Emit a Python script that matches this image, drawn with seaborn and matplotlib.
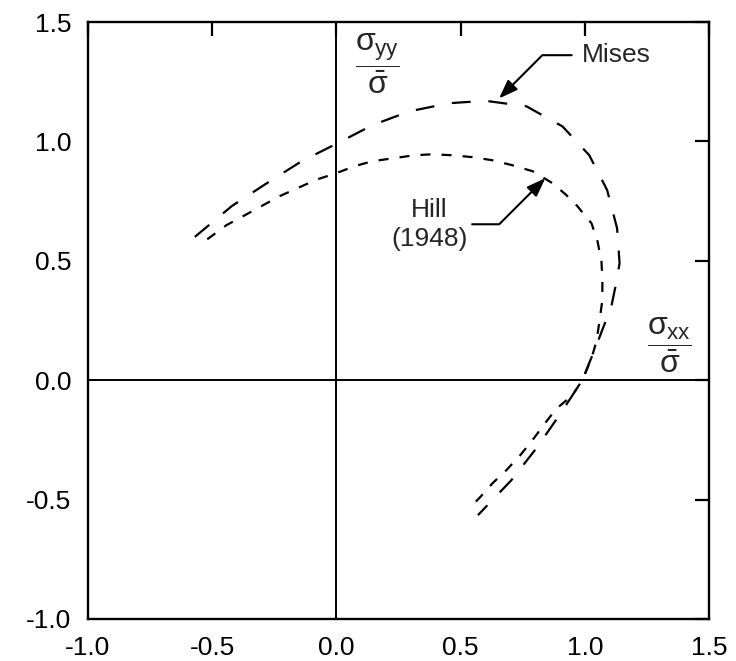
import matplotlib
matplotlib.use("Agg")
import matplotlib.pyplot as plt
import pandas as pd
import seaborn as sns

# Plane-stress yield loci, stresses normalised by the effective stress
mises_sxx = [-0.57, -0.42, -0.28, -0.14, 0.0, 0.145, 0.294, 0.455, 0.60, 0.765,
             0.91, 1.018, 1.09, 1.13, 1.14, 1.125, 1.107, 1.05, 0.99, 0.898,
             0.805, 0.705, 0.57]
mises_syy = [0.60, 0.73, 0.825, 0.917, 0.99, 1.068, 1.126, 1.16, 1.17, 1.147,
             1.063, 0.942, 0.796, 0.636, 0.49, 0.40, 0.31, 0.155, 0.0, -0.146,
             -0.285, -0.418, -0.565]

hill_sxx = [-0.52, -0.443, -0.37, -0.30, -0.23, -0.157, -0.08, 0.0, 0.072, 0.145,
            0.233, 0.314, 0.386, 0.467, 0.548, 0.628, 0.709, 0.79, 0.87, 0.926,
            0.97, 1.027, 1.051, 1.067, 1.071, 1.07, 1.059, 1.047, 1.027, 0.99,
            0.95, 0.885, 0.84, 0.79, 0.737, 0.684, 0.63, 0.575, 0.55]
hill_syy = [0.59, 0.649, 0.69, 0.73, 0.77, 0.804, 0.84, 0.867, 0.896, 0.917,
            0.93, 0.942, 0.946, 0.942, 0.934, 0.921, 0.90, 0.875, 0.825, 0.775,
            0.729, 0.657, 0.582, 0.50, 0.414, 0.33, 0.247, 0.163, 0.092, 0.0,
            -0.063, -0.12, -0.18, -0.25, -0.318, -0.377, -0.43, -0.494, -0.52]

tick_values = [-1.0, -0.5, 0.0, 0.5, 1.0, 1.5]
tick_labels = ["-1.0", "-0.5", "0.0", "0.5", "1.0", "1.5"]

sns.set_theme(style="white")
plt.rcParams["font.family"] = ["Liberation Sans", "DejaVu Sans"]
plt.rcParams["axes.unicode_minus"] = False
plt.rcParams["mathtext.fontset"] = "custom"
plt.rcParams["mathtext.rm"] = "Liberation Sans"
plt.rcParams["mathtext.it"] = "Liberation Sans"
plt.rcParams["mathtext.bf"] = "Liberation Sans:bold"

df = pd.concat([
    pd.DataFrame({"sxx": mises_sxx, "syy": mises_syy, "criterion": "Mises"}),
    pd.DataFrame({"sxx": hill_sxx, "syy": hill_syy, "criterion": "Hill"}),
], ignore_index=True)

fig = plt.figure(figsize=(7.36, 6.61), dpi=100)
ax = fig.add_axes([88 / 736, 1 - 619 / 661, (709 - 88) / 736, (619 - 22) / 661])

ax.axhline(0, color="black", lw=1.4, zorder=1)
ax.axvline(0, color="black", lw=1.4, zorder=1)

sns.lineplot(data=df, x="sxx", y="syy", style="criterion",
             dashes={"Mises": (8.5, 8.0), "Hill": (4.5, 5.0)},
             color="black", linewidth=1.6, sort=False, estimator=None,
             legend=False, ax=ax, zorder=3)

ax.set_xlim(-1.0, 1.5)
ax.set_ylim(-1.0, 1.5)
ax.set_xticks(tick_values)
ax.set_xticklabels(tick_labels)
ax.set_yticks(tick_values)
ax.set_yticklabels(tick_labels)
ax.set_xlabel("")
ax.set_ylabel("")
ax.tick_params(direction="in", length=10, width=1.6, top=True, right=True,
               labelsize=19, pad=12, colors="black")
for sp in ax.spines.values():
    sp.set_color("black")
    sp.set_linewidth(1.7)

# stress-axis labels
ax.text(0.165, 1.325, r"$\dfrac{\sigma_{yy}}{\bar{\sigma}}$", fontsize=23,
        ha="center", va="center")
ax.text(1.341, 0.147, r"$\dfrac{\sigma_{xx}}{\bar{\sigma}}$", fontsize=23,
        ha="center", va="center")

# curve call-outs
arrow_kw = dict(arrowstyle="-|>,head_length=0.6,head_width=0.22",
                color="black", lw=1.5, shrinkB=0)
ax.annotate("Mises", xy=(0.655, 1.18), xytext=(1.127, 1.361), fontsize=19,
            ha="center", va="center",
            arrowprops=dict(connectionstyle="angle,angleA=0,angleB=45,rad=0",
                            shrinkA=5, **arrow_kw))
ax.annotate("Hill\n(1948)", xy=(0.841, 0.846), xytext=(0.374, 0.653),
            fontsize=19, ha="center", va="center", linespacing=1.25,
            arrowprops=dict(connectionstyle="angle,angleA=0,angleB=45,rad=0",
                            shrinkA=1, **arrow_kw))

fig.savefig("out.png", dpi=100, facecolor="white")
